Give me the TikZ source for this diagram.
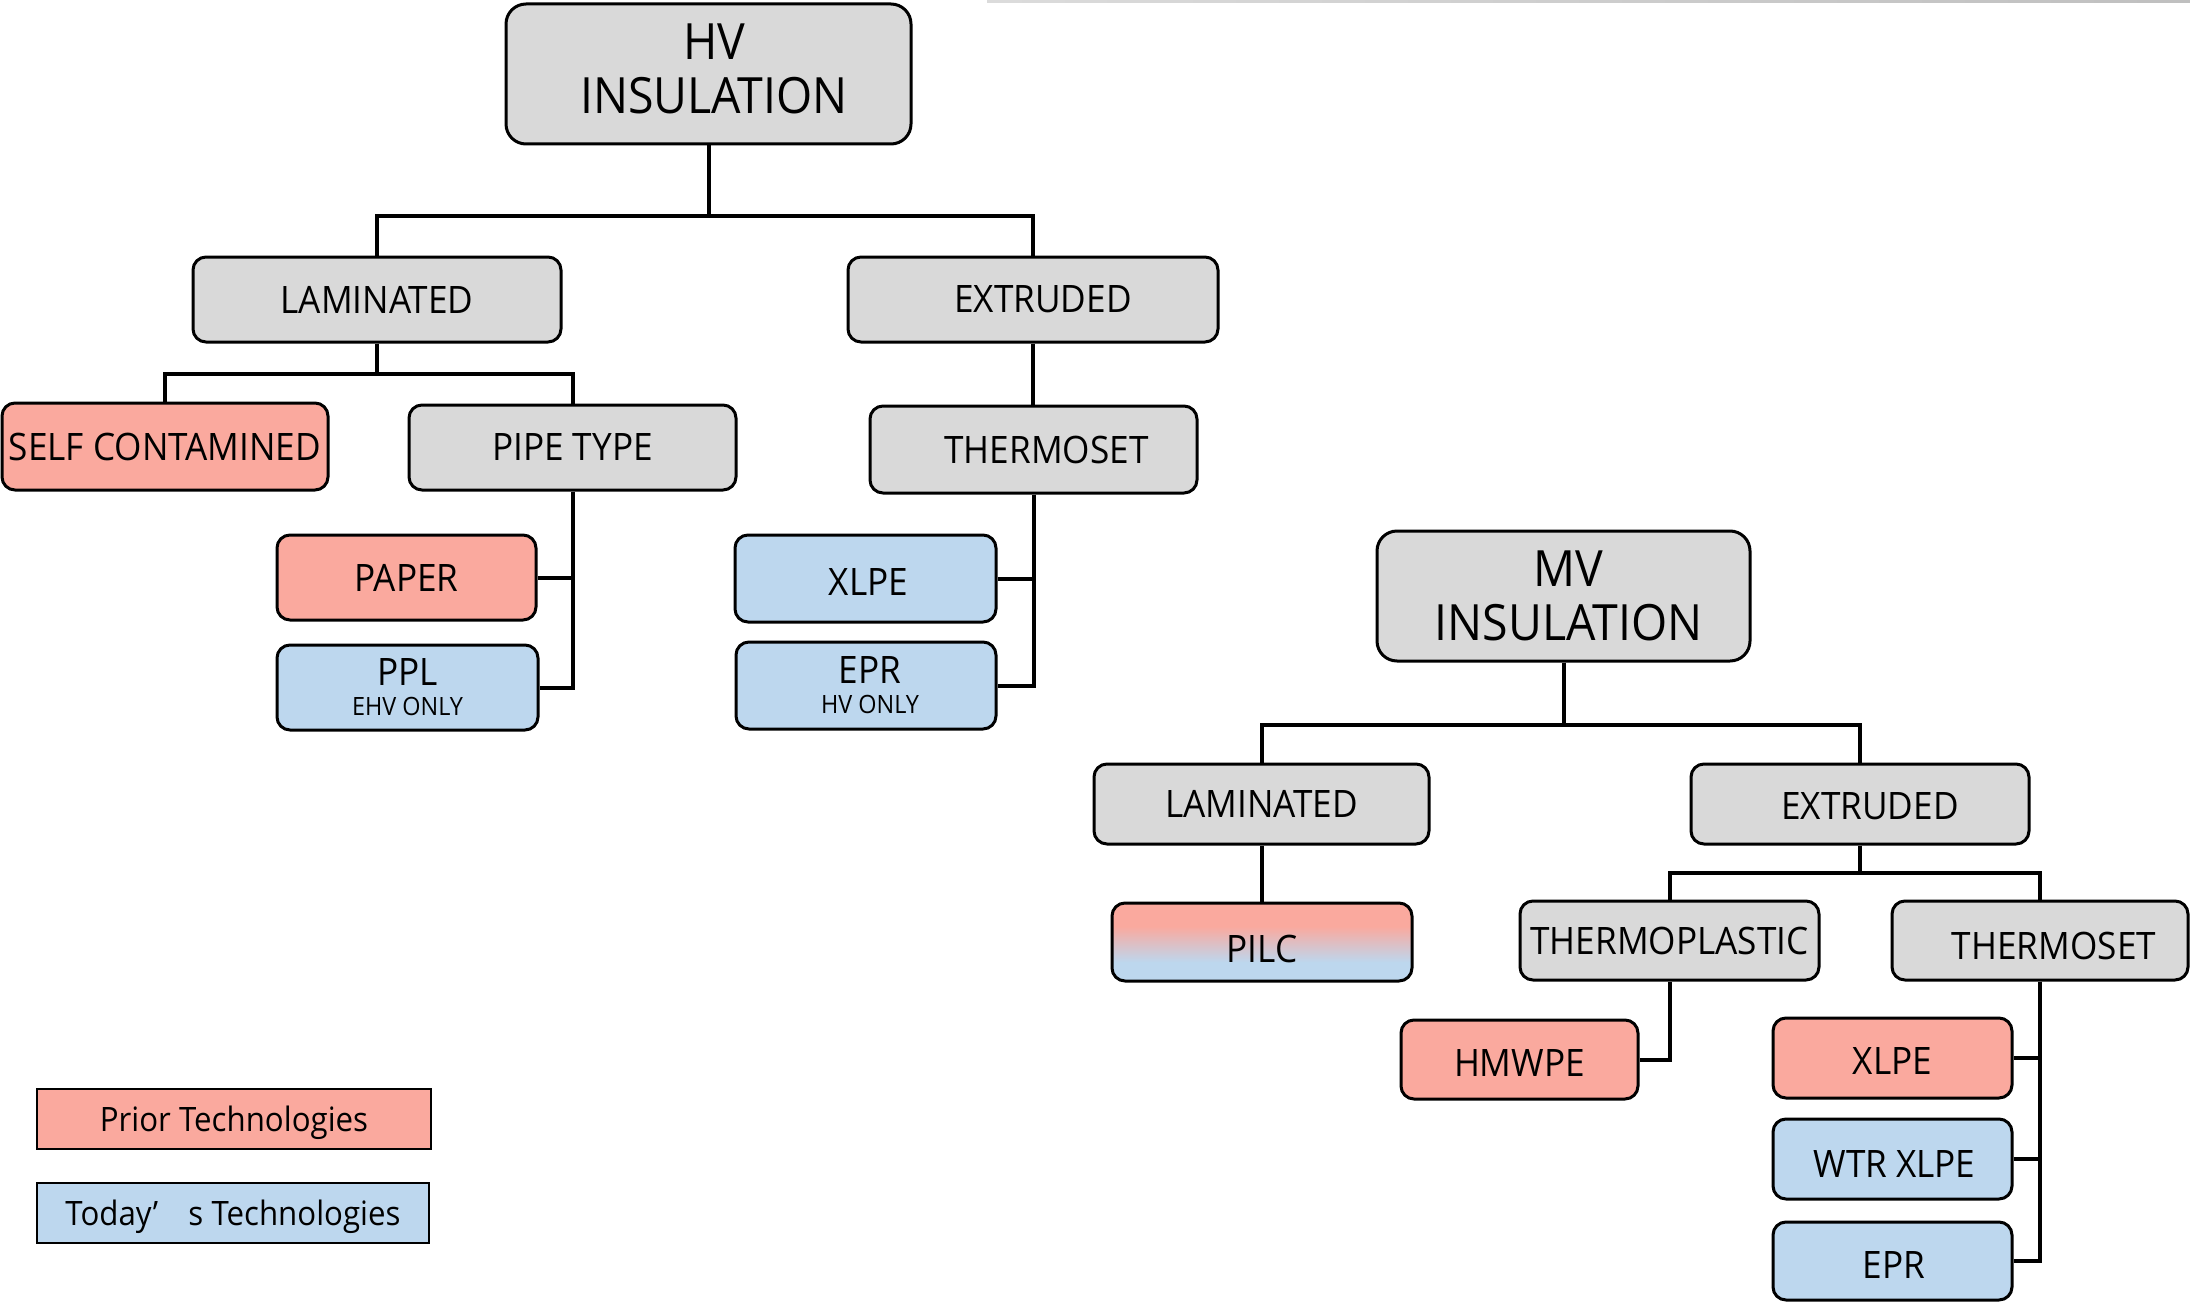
\documentclass[tikz,border=0pt]{standalone}
\usepackage{fontspec}
\setmainfont{Open Sans}[FakeStretch=0.93]
\definecolor{cgray}{HTML}{D9D9D9}
\definecolor{cred}{HTML}{FAA99E}
\definecolor{cblue}{HTML}{BDD7EE}
\pgfdeclareverticalshading{pilcshade}{100bp}{color(0bp)=(cblue); color(37bp)=(cblue); color(60bp)=(cred); color(100bp)=(cred)}
\newcommand{\lblfont}{\fontsize{37.8}{44}\selectfont}
\newcommand{\ttlfont}{\fontsize{50}{54}\selectfont}
\newcommand{\smlfont}{\fontsize{25.2}{30}\selectfont}
\newcommand{\legfont}{\fontsize{33.6}{40}\selectfont}
\newcommand{\rsh}[1]{\hspace*{#1pt}}
\begin{document}
\begin{tikzpicture}[x=1pt,y=-1pt,
  box/.style={draw=black, line width=3pt, rounded corners=13pt, inner sep=0pt, align=center, font=\lblfont},
  gbox/.style={box, fill=cgray},
  rbox/.style={box, fill=cred},
  bbox/.style={box, fill=cblue},
  tbox/.style={gbox, rounded corners=20pt, font=\ttlfont},
  tlow/.style={text height=#1, text depth=0pt},
  legbox/.style={draw=black, line width=2.5pt, inner sep=0pt, font=\legfont, text height=33.5pt, text depth=8pt},
  conn/.style={draw=black, line width=4pt}
]
\useasboundingbox (0,0) rectangle (2190,1303);
\shade[left color=black!14, right color=black!25] (987,0) rectangle (2190,3);

% HV tree
\node[tbox, minimum width=405, minimum height=140] (hv) at (708.5,74) {\rsh{11}HV\\\rsh{11}INSULATION\rule[-10pt]{0pt}{10pt}};
\node[gbox, minimum width=368, minimum height=85] (lamH) at (377,299.5) {LAMINATED};
\node[gbox, minimum width=370, minimum height=85] (extH) at (1033,299.5) {\rsh{20}EXTRUDED};
\node[rbox, minimum width=326, minimum height=87] (self) at (165,446.5) {SELF CONTAMINED};
\node[gbox, minimum width=327, minimum height=85] (pipe) at (572.5,447.5) {PIPE TYPE};
\node[gbox, minimum width=327, minimum height=87] (thermH) at (1033.5,449.5) {\rsh{26}THERMOSET};
\node[rbox, minimum width=259, minimum height=85] (paper) at (406.5,577.5) {PAPER};
\node[bbox, minimum width=261, minimum height=85, font=\fontsize{37.8}{30}\selectfont] (ppl) at (407.5,687.5) {PPL\\{\smlfont EHV ONLY}};
\node[bbox, minimum width=261, minimum height=87, tlow=33pt] (xlpeH) at (865.5,578.5) {\rsh{6}XLPE};
\node[bbox, minimum width=260, minimum height=87, font=\fontsize{37.8}{30}\selectfont] (eprH) at (866,685.5) {\rsh{8}EPR\\{\smlfont\rsh{8}HV ONLY}};

% MV tree
\node[tbox, minimum width=373, minimum height=130] (mv) at (1563.5,596) {\rsh{10}MV\\\rsh{10}INSULATION};
\node[gbox, minimum width=335, minimum height=80] (lamM) at (1261.5,804) {LAMINATED};
\node[gbox, minimum width=338, minimum height=80, tlow=30pt] (extM) at (1860,804) {\rsh{20}EXTRUDED};
\node[box, shading=pilcshade, minimum width=300, minimum height=78, tlow=41pt] (pilc) at (1262,942) {PILC};
\node[gbox, minimum width=299, minimum height=79] (tplast) at (1669.5,940.5) {THERMOPLASTIC};
\node[gbox, minimum width=296, minimum height=79, tlow=37pt] (tsetM) at (2040,940.5) {\rsh{28}THERMOSET};
\node[rbox, minimum width=237, minimum height=79, tlow=33pt] (hmwpe) at (1519.5,1059.5) {HMWPE};
\node[rbox, minimum width=239, minimum height=80, tlow=33pt] (xlpeM) at (1892.5,1058) {XLPE};
\node[bbox, minimum width=239, minimum height=80, tlow=37pt] (wtr) at (1892.5,1159) {\rsh{4}WTR XLPE};
\node[bbox, minimum width=239, minimum height=78, tlow=35pt] (eprM) at (1892.5,1261) {\rsh{3}EPR};

% legend
\node[legbox, fill=cred, minimum width=394, minimum height=60] (legP) at (234,1119) {Prior Technologies};
\node[legbox, fill=cblue, minimum width=392, minimum height=60] (legT) at (233,1213) {Today’\hspace{0.9em}s Technologies};

% HV connectors
\draw[conn] (hv.south) -- ++(0,70) -| (lamH.north);
\draw[conn] (hv.south) -- ++(0,70) -| (extH.north);
\draw[conn] (lamH.south) -- ++(0,30) -| (self.north);
\draw[conn] (lamH.south) -- ++(0,30) -| (pipe.north);
\draw[conn] (pipe.south) |- (paper.east);
\draw[conn] (pipe.south) |- (ppl.east);
\draw[conn] (extH.south) -- (extH.south |- thermH.north);
\draw[conn] (thermH.south) |- (xlpeH.east);
\draw[conn] (thermH.south) |- (eprH.east);

% MV connectors
\draw[conn] (mv.south) -- ++(0,62) -| (lamM.north);
\draw[conn] (mv.south) -- ++(0,62) -| (extM.north);
\draw[conn] (lamM.south) -- (lamM.south |- pilc.north);
\draw[conn] (extM.south) -- ++(0,27) -| (tplast.north);
\draw[conn] (extM.south) -- ++(0,27) -| (tsetM.north);
\draw[conn] (tplast.south) |- (hmwpe.east);
\draw[conn] (tsetM.south) |- (xlpeM.east);
\draw[conn] (tsetM.south) |- (wtr.east);
\draw[conn] (tsetM.south) |- (eprM.east);
\end{tikzpicture}
\end{document}
